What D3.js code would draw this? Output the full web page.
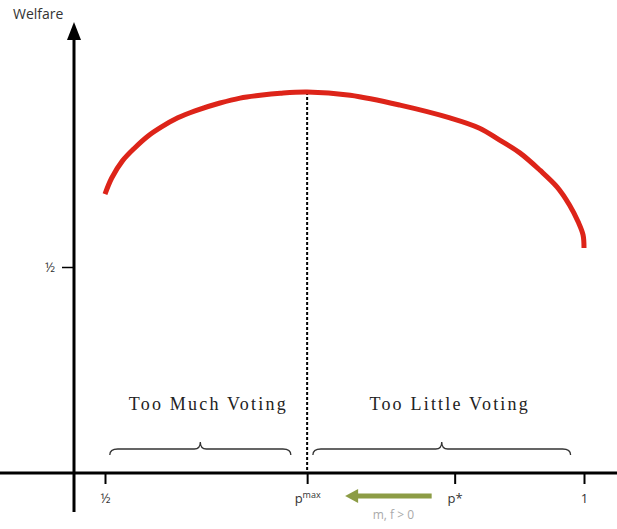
<!DOCTYPE html>
<html>
<head>
<meta charset="utf-8">
<script src="https://cdn.jsdelivr.net/npm/d3@7"></script>
<style>
  body { margin: 0; background: #fff; }
  svg { display: block; }
</style>
</head>
<body>
<div id="chart"></div>
<script>
// welfare curve (p, welfare)
const curveP = [0.500, 0.507, 0.518, 0.531, 0.545, 0.559, 0.576, 0.594, 0.620, 0.641, 0.662, 0.683, 0.711,
                0.756, 0.808, 0.860, 0.891, 0.912, 0.933, 0.954, 0.972, 0.985, 0.994, 0.999, 1.000];
const curveW = [0.677, 0.716, 0.757, 0.789, 0.818, 0.840, 0.862, 0.879, 0.898, 0.910, 0.917, 0.922, 0.925,
                0.917, 0.893, 0.862, 0.837, 0.808, 0.777, 0.735, 0.694, 0.650, 0.609, 0.578, 0.546];

const pMax = 0.711;
const pStar = 0.865;

const xTickValues = [0.5, pMax, pStar, 1];
const xTickLabels = ["½", "p|max", "p*", "1"];
const yTickValues = [0.5];
const yTickLabels = ["½"];

const regionLabels = ["Too Much Voting", "Too Little Voting"];
const regionStart = [0.505, 0.717];
const regionEnd = [0.694, 0.986];

const width = 617;
const height = 529;
const axisY = 473;   // where the horizontal axis sits
const axisX = 74;    // where the vertical axis sits

const svg = d3.select("#chart").append("svg")
    .attr("width", width)
    .attr("height", height);

const x = d3.scaleLinear().domain([0.5, 1]).range([105, 584]);
const y = d3.scaleLinear().domain([0, 1]).range([axisY, 61]);

// horizontal axis line, full width
svg.append("line")
    .attr("x1", 0).attr("x2", width)
    .attr("y1", axisY).attr("y2", axisY)
    .attr("stroke", "#000").attr("stroke-width", 3);

// vertical axis with arrow head
svg.append("line")
    .attr("x1", axisX).attr("x2", axisX)
    .attr("y1", 36).attr("y2", 512)
    .attr("stroke", "#000").attr("stroke-width", 3);
svg.append("path")
    .attr("d", `M${axisX},22 L${axisX - 7},40 L${axisX + 7},40 Z`)
    .attr("fill", "#000");

svg.append("text")
    .attr("x", 13).attr("y", 19)
    .attr("font-family", "'Open Sans', sans-serif")
    .attr("font-size", 14)
    .attr("fill", "#333")
    .text("Welfare");

// x ticks
const xAxis = d3.axisBottom(x)
    .tickValues(xTickValues)
    .tickSize(11)
    .tickPadding(10)
    .tickFormat((d, i) => xTickLabels[i]);

const gx = svg.append("g")
    .attr("transform", `translate(0,${axisY})`)
    .call(xAxis);
gx.select(".domain").remove();
gx.selectAll(".tick line").attr("stroke", "#000").attr("stroke-width", 2);
gx.selectAll(".tick text")
    .attr("font-family", "'Open Sans', sans-serif")
    .attr("font-size", 13)
    .attr("fill", "#333")
    .each(function(d, i) {
        const parts = xTickLabels[i].split("|");
        const t = d3.select(this).text(parts[0]);
        if (parts[1]) {
            t.append("tspan")
                .attr("font-size", 9)
                .attr("dy", -5)
                .text(parts[1]);
        }
    });

// y tick
const yAxis = d3.axisLeft(y)
    .tickValues(yTickValues)
    .tickSize(12)
    .tickPadding(7)
    .tickFormat((d, i) => yTickLabels[i]);
const gy = svg.append("g")
    .attr("transform", `translate(${axisX},0)`)
    .call(yAxis);
gy.select(".domain").remove();
gy.selectAll(".tick line").attr("stroke", "#000").attr("stroke-width", 1.5);
gy.selectAll(".tick text")
    .attr("font-family", "'Open Sans', sans-serif")
    .attr("font-size", 13)
    .attr("fill", "#333");

// dashed line at p max
const peakW = curveW[curveP.indexOf(pMax)];
svg.append("line")
    .attr("x1", x(pMax)).attr("x2", x(pMax))
    .attr("y1", y(peakW)).attr("y2", axisY)
    .attr("stroke", "#000")
    .attr("stroke-width", 2)
    .attr("stroke-dasharray", "3,2");

// welfare curve
const line = d3.line()
    .x((d, i) => x(curveP[i]))
    .y(d => y(d))
    .curve(d3.curveCatmullRom.alpha(0.5));

svg.append("path")
    .attr("d", line(curveW))
    .attr("fill", "none")
    .attr("stroke", "#dd2419")
    .attr("stroke-width", 5)
    .attr("stroke-linecap", "butt");

// region labels and braces
regionLabels.forEach((lab, i) => {
    const x1 = x(regionStart[i]), x2 = x(regionEnd[i]);
    const mid = (x1 + x2) / 2;
    svg.append("text")
        .attr("x", mid + 8).attr("y", 410)
        .attr("text-anchor", "middle")
        .attr("font-family", "'Liberation Serif', 'Times New Roman', serif")
        .attr("font-size", 18)
        .attr("letter-spacing", 2.2)
        .attr("fill", "#222")
        .text(lab);

    const by = 449;
    svg.append("path")
        .attr("d", `M${x1},${by + 6} Q${x1},${by} ${x1 + 8},${by}
                    L${mid - 6},${by} Q${mid},${by} ${mid},${by - 7}
                    Q${mid},${by} ${mid + 6},${by}
                    L${x2 - 8},${by} Q${x2},${by} ${x2},${by + 6}`)
        .attr("fill", "none")
        .attr("stroke", "#333")
        .attr("stroke-width", 1.3);
});

// green arrow from p* towards p max
const ay = 496;
const ax1 = x(pStar) - 23, ax2 = x(pMax) + 38;
svg.append("line")
    .attr("x1", ax1).attr("x2", ax2 + 10)
    .attr("y1", ay).attr("y2", ay)
    .attr("stroke", "#8c9c45")
    .attr("stroke-width", 5);
svg.append("path")
    .attr("d", `M${ax2},${ay} L${ax2 + 13},${ay - 7} L${ax2 + 13},${ay + 7} Z`)
    .attr("fill", "#8c9c45");

svg.append("text")
    .attr("x", (ax1 + ax2) / 2 + 5).attr("y", 519)
    .attr("text-anchor", "middle")
    .attr("font-family", "'Open Sans', sans-serif")
    .attr("font-size", 12)
    .attr("fill", "#aaa")
    .text("m, f > 0");
</script>
</body>
</html>
